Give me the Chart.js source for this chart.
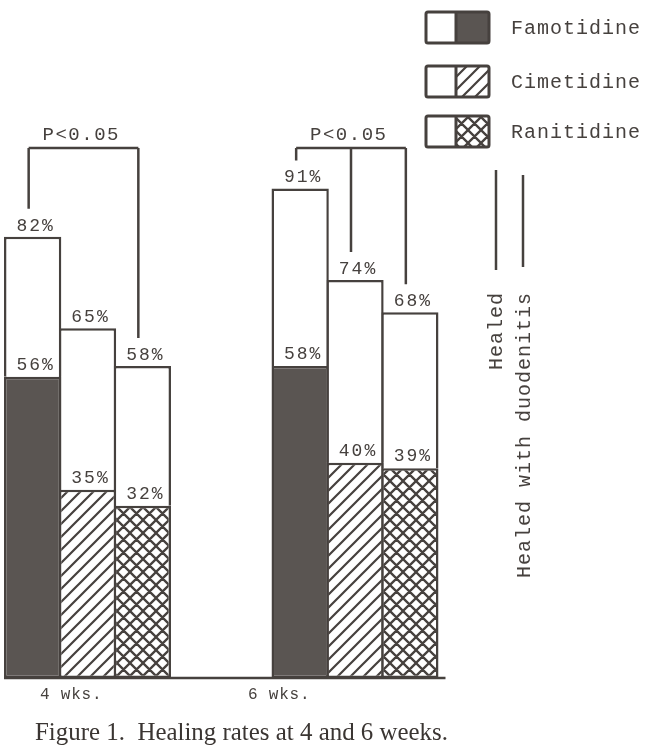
<!DOCTYPE html>
<html>
<head>
<meta charset="utf-8">
<script src="https://cdn.jsdelivr.net/npm/chart.js@4.4.1/dist/chart.umd.min.js"></script>
<style>
  html, body { margin: 0; padding: 0; background: #fff; overflow: hidden; }
  canvas { display: block; }
</style>
</head>
<body>
<canvas id="chart" width="650" height="749"></canvas>
<script>
// values (percent healed)
const groupLabels = ["4 wks.", "6 wks."];
const drugs = ["Famotidine", "Cimetidine", "Ranitidine"];

const famotidineHealed = [56, 58];
const famotidineTotal = [82, 91];
const cimetidineHealed = [35, 40];
const cimetidineTotal = [65, 74];
const ranitidineHealed = [32, 39];
const ranitidineTotal = [58, 68];

const sideKeys = ["Healed", "Healed with duodenitis"];
const pText = "P<0.05";
// [group index, drug indexes joined by the bracket]
const brackets = [
  [0, [0, 2]],
  [1, [0, 1, 2]],
];
const caption = "Figure 1.  Healing rates at 4 and 6 weeks.";

const ink = "#46413e";
const mono = "'Liberation Mono', 'DejaVu Sans Mono', monospace";

function makeFill(kind) {
  if (kind === "solid") return "#5a5552";
  const s = 13;
  const tile = document.createElement("canvas");
  tile.width = tile.height = s;
  const g = tile.getContext("2d");
  g.fillStyle = "#fff";
  g.fillRect(0, 0, s, s);
  g.strokeStyle = ink;
  g.lineWidth = kind === "cross" ? 2.3 : 2.2;
  g.beginPath();
  // "/" lines
  g.moveTo(-2, s + 2); g.lineTo(s + 2, -2);
  g.moveTo(-2, 2); g.lineTo(2, -2);
  g.moveTo(s - 2, s + 2); g.lineTo(s + 2, s - 2);
  if (kind === "cross") {
    // "\" lines
    g.moveTo(-2, -2); g.lineTo(s + 2, s + 2);
    g.moveTo(s - 2, -2); g.lineTo(s + 2, 2);
    g.moveTo(-2, s - 2); g.lineTo(2, s + 2);
  }
  g.stroke();
  return document.createElement("canvas").getContext("2d").createPattern(tile, "repeat");
}

const fills = [makeFill("solid"), makeFill("diag"), makeFill("cross")];
const healed = [famotidineHealed, cimetidineHealed, ranitidineHealed];
const totals = [famotidineTotal, cimetidineTotal, ranitidineTotal];

const datasets = [];
drugs.forEach((name, d) => {
  datasets.push({
    label: name,
    data: healed[d],
    stack: name,
    backgroundColor: fills[d],
    borderSkipped: false,
  });
  datasets.push({
    label: name + " total",
    data: totals[d].map((t, i) => t - healed[d][i]),
    stack: name,
    backgroundColor: "#fff",
    borderSkipped: "start",
  });
});

function text(ctx, s, x, y, size, opts) {
  opts = opts || {};
  ctx.save();
  ctx.font = (opts.font || size + "px " + mono);
  ctx.fillStyle = opts.color || ink;
  ctx.textAlign = opts.align || "center";
  ctx.textBaseline = opts.baseline || "alphabetic";
  const sp = opts.spacing || 0;
  if ("letterSpacing" in ctx) ctx.letterSpacing = sp + "px";
  if (ctx.textAlign === "center") x += sp / 2;
  ctx.fillText(s, x, y);
  ctx.restore();
}

const figurePlugin = {
  id: "figure",
  beforeDraw(chart) {
    const ctx = chart.ctx;
    ctx.save();
    ctx.fillStyle = "#fff";
    ctx.fillRect(0, 0, chart.width, chart.height);
    ctx.restore();
  },
  afterDatasetsDraw(chart) {
    const ctx = chart.ctx;
    const y = chart.scales.y;
    const bar = (d, part, i) => chart.getDatasetMeta(d * 2 + part).data[i];

    // baseline
    const first = bar(0, 0, 0);
    const last = bar(drugs.length - 1, 0, groupLabels.length - 1);
    ctx.save();
    ctx.strokeStyle = ink;
    ctx.lineWidth = 2.5;
    ctx.beginPath();
    ctx.moveTo(first.x - first.width / 2, y.getPixelForValue(0));
    ctx.lineTo(last.x + last.width / 2 + 7, y.getPixelForValue(0));
    ctx.stroke();
    ctx.restore();

    // value labels
    groupLabels.forEach((g, i) => {
      drugs.forEach((name, d) => {
        const low = bar(d, 0, i);
        const top = bar(d, 1, i);
        text(ctx, healed[d][i] + "%", low.x + 2, low.y - 7, 18, { spacing: 2 });
        text(ctx, totals[d][i] + "%", top.x + 2, top.y - 6, 18, { spacing: 2 });
      });
    });

    // significance brackets
    const lineY = y.getPixelForValue(98.5);
    ctx.save();
    ctx.strokeStyle = ink;
    ctx.lineWidth = 2.5;
    brackets.forEach(([i, ds]) => {
      const xs = ds.map((d) => bar(d, 1, i).x - 4);
      ctx.beginPath();
      ctx.moveTo(xs[0], lineY);
      ctx.lineTo(xs[xs.length - 1], lineY);
      ds.forEach((d, k) => {
        ctx.moveTo(xs[k], lineY);
        ctx.lineTo(xs[k], bar(d, 1, i).y - 28);
      });
      ctx.stroke();
      text(ctx, pText, (xs[0] + xs[xs.length - 1]) / 2 - 3, lineY - 8, 19, { spacing: 1.5 });
    });
    ctx.restore();

    // group labels
    const tickX = [40, 248];
    groupLabels.forEach((g, i) => {
      text(ctx, g, tickX[i], 699, 16, { align: "left", spacing: 0.8 });
    });

    // legend
    const boxY = [12, 66, 116];
    drugs.forEach((name, d) => {
      const bx = 426, by = boxY[d], bw = 63, bh = 31;
      ctx.save();
      ctx.fillStyle = "#fff";
      ctx.fillRect(bx, by, bw, bh);
      ctx.fillStyle = fills[d];
      ctx.fillRect(bx + 30, by, bw - 30, bh);
      ctx.strokeStyle = ink;
      ctx.lineWidth = 3;
      ctx.beginPath();
      if (ctx.roundRect) ctx.roundRect(bx, by, bw, bh, 2);
      else ctx.rect(bx, by, bw, bh);
      ctx.moveTo(bx + 30, by);
      ctx.lineTo(bx + 30, by + bh);
      ctx.stroke();
      ctx.restore();
      text(ctx, name, 511, by + bh / 2 + 6, 20, { align: "left", spacing: 1 });
    });

    // side key
    const keyX = [496, 523];
    const keyLine = [[170, 270], [175, 267]];
    const keyTextX = [497, 525];
    sideKeys.forEach((k, j) => {
      ctx.save();
      ctx.strokeStyle = ink;
      ctx.lineWidth = 2.5;
      ctx.beginPath();
      ctx.moveTo(keyX[j], keyLine[j][0]);
      ctx.lineTo(keyX[j], keyLine[j][1]);
      ctx.stroke();
      ctx.translate(keyTextX[j], 292);
      ctx.rotate(-Math.PI / 2);
      text(ctx, k, 0, 0, 20, { align: "right", baseline: "middle", spacing: 1 });
      ctx.restore();
    });

    // caption
    ctx.save();
    ctx.font = "25px 'Liberation Serif', 'DejaVu Serif', serif";
    const w = ctx.measureText(caption).width;
    ctx.translate(35, 740);
    ctx.scale(413 / w, 1);
    ctx.fillStyle = "#3a3532";
    ctx.textAlign = "left";
    ctx.textBaseline = "alphabetic";
    ctx.fillText(caption, 0, 0);
    ctx.restore();
  },
};

new Chart(document.getElementById("chart").getContext("2d"), {
  type: "bar",
  data: { labels: groupLabels, datasets: datasets },
  options: {
    responsive: false,
    animation: false,
    layout: { padding: { left: 87.5, right: 295, top: 140, bottom: 71 } },
    datasets: {
      bar: {
        barPercentage: 1.045,
        categoryPercentage: 0.615,
        borderWidth: 2.5,
        borderColor: ink,
        clip: false,
      },
    },
    plugins: {
      legend: { display: false },
      tooltip: { enabled: false },
    },
    scales: {
      x: { display: false, stacked: true, offset: false },
      y: { display: false, stacked: true, min: 0, max: 100 },
    },
  },
  plugins: [figurePlugin],
});
</script>
</body>
</html>
